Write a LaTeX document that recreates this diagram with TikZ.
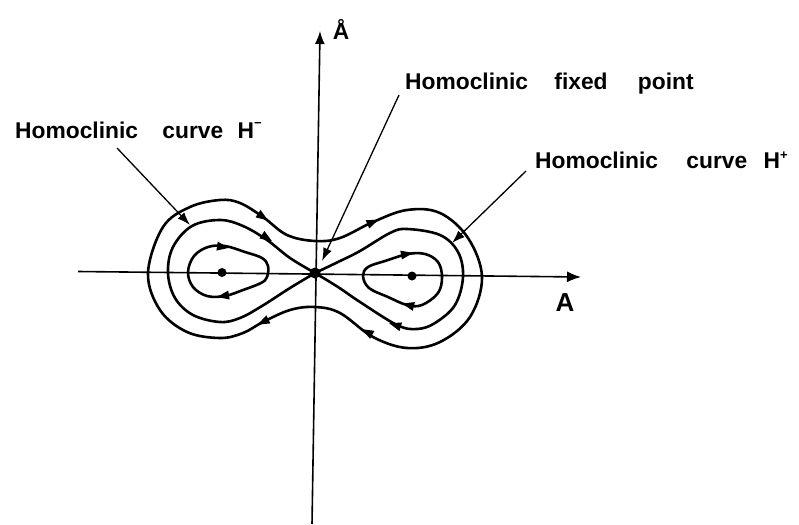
\documentclass[tikz,border=0pt]{standalone}
\usepackage{fontspec}
\newfontfamily\lab{Liberation Sans}
\usetikzlibrary{arrows.meta}
\begin{document}
\begin{tikzpicture}[x=1pt,y=-1pt,
  curve/.style={line width=2.6pt, line join=round},
  axis/.style={line width=1.6pt},
  leader/.style={line width=1.3pt, -{Latex[length=13pt,width=9pt]}},
  lbl/.style={font=\lab\bfseries\fontsize{22.8pt}{26pt}\selectfont, inner sep=0pt},
  flow/.pic={\fill (6,0) -- (-6,4.5) -- (-6,-4.5) -- cycle;}
]
\useasboundingbox (0,0) rectangle (799,524);

% axes
\coordinate (xl) at (78,271.5);
\coordinate (xr) at (581,277);
\coordinate (yb) at (312,524);
\coordinate (yt) at (320,31);
\draw[axis,-{Latex[length=14pt,width=11pt]}] (xl) -- (xr);
\draw[axis,-{Latex[length=13pt,width=10pt]}] (yb) -- (yt);
\node[lbl, anchor=base] (adot) at (341,40) {Å};
\node[lbl, anchor=base, font=\lab\bfseries\fontsize{26pt}{28pt}\selectfont] (alab) at (565,311) {A};

% points
\coordinate (S) at (315,273);
\coordinate (CL) at (222,272.5);
\coordinate (CR) at (412,276);

% outer curve
\draw[curve] plot[smooth cycle, tension=0.6] coordinates {
 (315,241) (340,238) (373,222) (407,210) (440,213) (468,238) (482,277)
 (470,317) (440,342) (407,348) (373,337) (340,313) (315,307) (290,310)
 (263,322) (243,333) (220,338) (187,332) (160,310) (148,273) (163,227)
 (190,207) (220,200) (240,203) (263,217) (287,235)};

% homoclinic figure eight
\draw[curve] plot[smooth, tension=0.6] coordinates {
 (315,273) (338,262) (360,251) (390,233) (407,229) (440,235) (458,252)
 (463,277) (455,305) (435,323) (417,329) (397,325) (360,302) (338,287) (315,273)};
\draw[curve] plot[smooth, tension=0.6] coordinates {
 (315,273) (290,258) (267,240) (243,226) (220,220) (192,226) (173,247)
 (168,273) (175,298) (193,315) (220,322) (240,318) (262,306) (290,288) (315,273)};

% inner loops
\draw[curve] plot[smooth cycle, tension=0.6] coordinates {
 (188,272) (194,256) (208,247) (225,246) (245,252) (262,258) (268,266)
 (267,277) (261,283) (243,290) (225,296) (207,296) (193,287)};
\draw[curve] plot[smooth cycle, tension=0.6] coordinates {
 (363,276) (368,267) (385,261) (408,254) (425,254) (438,262) (442,277)
 (438,293) (422,305) (407,305) (388,297) (369,288)};

% flow arrows
\pic[rotate=-34] at (263,217) {flow};
\pic[rotate=-33] at (267,238) {flow};
\pic[rotate=-8] at (223,247) {flow};
\pic[rotate=-171] at (223,296) {flow};
\pic[rotate=-154] at (263,322) {flow};
\pic[rotate=23] at (373,222) {flow};
\pic[rotate=10] at (407,254) {flow};
\pic[rotate=166] at (408,305) {flow};
\pic[rotate=163] at (395,325) {flow};
\pic[rotate=152] at (367,332) {flow};

% dots
\fill (S) circle (5.5);
\fill (CL) circle (4.5);
\fill (CR) circle (4.5);

% labels
\node[lbl, anchor=base west] (fp) at (405,90) {Homoclinic\hspace{20pt} fixed\hspace{24pt} point};
\node[lbl, anchor=base west] (hm) at (15,138) {Homoclinic\hspace{18pt} curve\hspace{8pt} H\raisebox{10pt}{\fontsize{13pt}{13pt}\selectfont −}};
\node[lbl, anchor=base west] (hp) at (535,168) {Homoclinic\hspace{22pt} curve\hspace{10pt} H\raisebox{9pt}{\fontsize{13pt}{13pt}\selectfont +}};

% leaders
\coordinate (fpS) at (399,95);
\coordinate (fpE) at (322,261);
\coordinate (hmS) at (117,148);
\coordinate (hmE) at (190,225);
\coordinate (hpS) at (526,171);
\coordinate (hpE) at (452,243);
\draw[leader] (fpS) -- (fpE);
\draw[leader] (hmS) -- (hmE);
\draw[leader] (hpS) -- (hpE);
\end{tikzpicture}
\end{document}
